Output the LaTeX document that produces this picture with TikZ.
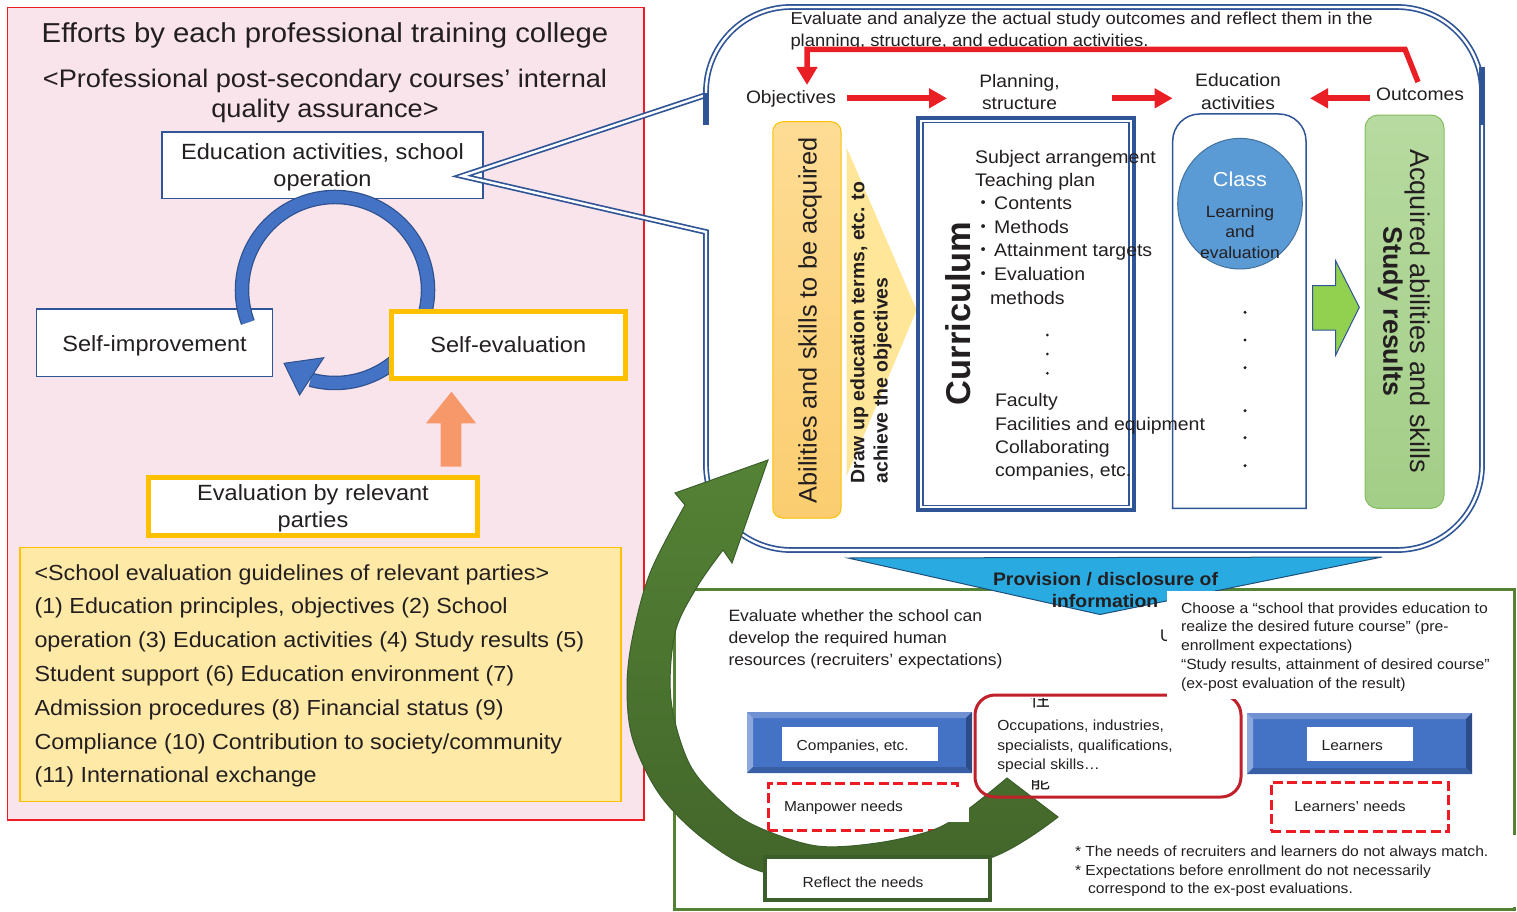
\documentclass[tikz,border=0pt]{standalone}
\usepackage{fontspec}
\setmainfont{Liberation Sans}[FakeStretch=1.07]
\newfontfamily\rotsans{Liberation Sans}
\newfontfamily\cjk{Noto Sans CJK JP}
\newfontfamily\calib{Carlito}
\usetikzlibrary{arrows.meta,shapes.geometric}

\definecolor{ink}{RGB}{35,31,32}
\definecolor{panelpink}{RGB}{250,228,236}
\definecolor{panelred}{RGB}{237,28,36}
\definecolor{boxblue}{RGB}{47,85,151}
\definecolor{ringblue}{RGB}{68,114,196}
\definecolor{ringdark}{RGB}{47,82,143}
\definecolor{amber}{RGB}{255,192,0}
\definecolor{salmon}{RGB}{246,152,106}
\definecolor{listyellow}{RGB}{255,233,166}
\definecolor{flowred}{RGB}{234,30,37}
\definecolor{paleyellow}{RGB}{255,230,153}
\definecolor{abiltop}{RGB}{254,220,148}
\definecolor{abilbot}{RGB}{251,205,112}
\definecolor{classblue}{RGB}{91,155,213}
\definecolor{classedge}{RGB}{65,113,156}
\definecolor{leafgreen}{RGB}{146,208,80}
\definecolor{resulttop}{RGB}{183,218,160}
\definecolor{resultbot}{RGB}{163,206,135}
\definecolor{resultedge}{RGB}{130,190,95}
\definecolor{skyblue}{RGB}{41,171,226}
\definecolor{navyedge}{RGB}{31,78,121}
\definecolor{forest}{RGB}{84,130,53}
\definecolor{forestdeep}{RGB}{66,101,42}
\definecolor{forestdark}{RGB}{59,94,43}
\definecolor{needred}{RGB}{237,28,36}
\definecolor{wine}{RGB}{192,32,42}
\definecolor{bevelbase}{RGB}{68,114,196}
\definecolor{bevellight}{RGB}{112,146,211}
\definecolor{bevelleft}{RGB}{140,168,220}
\definecolor{beveldark}{RGB}{44,76,135}
\definecolor{bevelbottom}{RGB}{56,94,166}

\newcommand\fsz[2]{\fontsize{#1}{#2}\selectfont}
% bevelled panel: corners (x1,y1) and (x2,y2)
\newcommand\bevelpanel[4]{%
  \fill[bevelbase] (#1,#2) rectangle (#3,#4);
  \fill[bevellight] (#1,#2) -- (#3,#2) -- ({#3-6},{#2+6}) -- ({#1+6},{#2+6}) -- cycle;
  \fill[bevelleft] (#1,#2) -- ({#1+6},{#2+6}) -- ({#1+6},{#4-6}) -- (#1,#4) -- cycle;
  \fill[beveldark] (#3,#2) -- (#3,#4) -- ({#3-6},{#4-6}) -- ({#3-6},{#2+6}) -- cycle;
  \fill[bevelbottom] (#1,#4) -- (#3,#4) -- ({#3-6},{#4-6}) -- ({#1+6},{#4-6}) -- cycle;
}

\tikzset{
  txt/.style={inner sep=0pt, outer sep=0pt, text=ink},
  lbl/.style={txt, anchor=base west},
  clbl/.style={txt, anchor=base},
  plainbox/.style={draw=boxblue, line width=1.5pt, fill=white, inner sep=0pt},
  amberbox/.style={draw=amber, line width=5pt, fill=white, inner sep=0pt},
  flow/.style={draw=flowred, line width=6pt, -{Triangle[width=19pt,length=18pt]}},
  needbox/.style={draw=needred, line width=3pt, dash pattern=on 10pt off 4.5pt, inner sep=0pt},
  blank/.style={fill=white, inner sep=0pt},
}

\begin{document}
\begin{tikzpicture}[x=1pt,y=-1pt]
\useasboundingbox (0,0) rectangle (1517,912);
\fill[white] (0,0) rectangle (1517,912);

% ---------------- left panel: internal quality assurance ----------------
\node[draw=panelred, line width=1.5pt, fill=panelpink, minimum width=636.5, minimum height=812.5, inner sep=0pt] (leftpanel) at (325.75,413.75) {};
\node[clbl, font=\fsz{27.4}{32}] (title) at (325,43) {Efforts by each professional training college};
\node[clbl, font=\fsz{25.4}{30}] (sub1) at (325,87.3) {<Professional post-secondary courses’ internal};
\node[clbl, font=\fsz{25.4}{30}] (sub2) at (325,117.5) {quality assurance>};

\node[plainbox, minimum width=321, minimum height=66.5] (ea) at (322.5,165.25) {};
\node[clbl, font=\fsz{22}{26}] (ea1) at (322.5,159.3) {Education activities, school};
\node[clbl, font=\fsz{22}{26}] (ea2) at (322.5,186) {operation};

\node[plainbox, minimum width=236.1, minimum height=67.7] (simp) at (154.55,342.85) {};
\node[clbl, font=\fsz{22}{26}] (simptxt) at (154.55,351.7) {Self-improvement};

% improvement cycle
\draw[ringdark, line width=14.5pt] (335,290) ++(159.6:93) arc[start angle=159.6, end angle=465.2, radius=93];
\draw[ringblue, line width=12pt] (335,290) ++(159.6:93) arc[start angle=159.6, end angle=465.2, radius=93];
\filldraw[fill=ringblue, draw=ringdark, line width=1pt] (284,363.3) -- (323.7,357.7) -- (299.6,395) -- cycle;

\node[amberbox, minimum width=234, minimum height=67] (seval) at (508.3,344.7) {};
\node[clbl, font=\fsz{22}{26}] (sevaltxt) at (508.3,352.3) {Self-evaluation};

\node[amberbox, minimum width=329, minimum height=58.3] (erp) at (313,506.65) {};
\node[clbl, font=\fsz{22}{26}] (erp1) at (313,500) {Evaluation by relevant};
\node[clbl, font=\fsz{22}{26}] (erp2) at (313,527.5) {parties};

\fill[salmon] (440.7,466.7) -- (440.7,423.3) -- (426,423.3) -- (451.5,391.7) -- (476,423.3) -- (461.4,423.3) -- (461.4,466.7) -- cycle;

\node[draw=amber, line width=1.2pt, fill=listyellow, minimum width=601, minimum height=254, inner sep=0pt] (guide) at (320.5,674.7) {};
\begin{scope}[every node/.style={lbl, font=\fsz{21.8}{26}}]
\node (g1) at (34.5,580) {<School evaluation guidelines of relevant parties>};
\node (g2) at (34.5,613.5) {(1) Education principles, objectives (2) School};
\node (g3) at (34.5,647.3) {operation (3) Education activities (4) Study results (5)};
\node (g4) at (34.5,681.2) {Student support (6) Education environment (7)};
\node (g5) at (34.5,715) {Admission procedures (8) Financial status (9)};
\node (g6) at (34.5,749) {Compliance (10) Contribution to society/community};
\node (g7) at (34.5,782.8) {(11) International exchange};
\end{scope}

% ---------------- callout frame ----------------
\draw[boxblue, line width=1.7pt, double=white, double distance=2.4pt, line join=miter]
  (706,232) -- (706,465) arc[start angle=180, end angle=90, radius=85]
  -- (1397,550) arc[start angle=90, end angle=0, radius=85]
  -- (1482,92) arc[start angle=0, end angle=-90, radius=85]
  -- (791,7) arc[start angle=-90, end angle=-180, radius=85]
  -- (706,95) -- (462,176) -- cycle;
\fill[boxblue] (703,93) rectangle (709,125);
\fill[boxblue] (1479,67) rectangle (1485,125);

\node[lbl, font=\fsz{17.2}{21}] (fb1) at (790.5,25) {Evaluate and analyze the actual study outcomes and reflect them in the};
\node[lbl, font=\fsz{17.2}{21}] (fb2) at (790.5,46.7) {planning, structure, and education activities.};

\node[lbl, font=\fsz{18}{22}] (obj) at (746,104) {Objectives};
\node[clbl, font=\fsz{18}{22}] (plan1) at (1019.5,88) {Planning,};
\node[clbl, font=\fsz{18}{22}] (plan2) at (1019.5,109.5) {structure};
\node[clbl, font=\fsz{18}{22}] (edu1) at (1238,87) {Education};
\node[clbl, font=\fsz{18}{22}] (edu2) at (1238,109.5) {activities};
\node[clbl, font=\fsz{18}{22}] (outc) at (1420,101) {Outcomes};

\coordinate (fbstart) at (1418,82);
\coordinate (objtop) at (807,85);
\draw[flowred, line width=5.5pt, line join=miter, -{Triangle[width=20pt,length=18pt]}] (fbstart) -- (1405,49.3) -- (807,49.3) -- (objtop);

\coordinate (a1s) at (847,98.3);   \coordinate (a1e) at (947,98.3);
\coordinate (a2s) at (1112,98.3);  \coordinate (a2e) at (1172.6,98.3);
\coordinate (a3s) at (1370,98.3);  \coordinate (a3e) at (1310,98.3);
\draw[flow] (a1s) -- (a1e);
\draw[flow] (a2s) -- (a2e);
\draw[flow] (a3s) -- (a3e);

% abilities column
\node[draw=amber, line width=1pt, rounded corners=10pt, top color=abiltop, bottom color=abilbot, minimum width=68.3, minimum height=396.3, inner sep=0pt] (abil) at (806.9,319.9) {};
\node[clbl, rotate=90, font=\rotsans\fsz{25.3}{30}] (abiltxt) at (816.7,320.5) {Abilities and skills to be acquired};

\fill[paleyellow] (846.7,147.7) -- (916.7,310) -- (846.7,476) -- cycle;
\node[lbl, rotate=90, font=\rotsans\bfseries\fsz{19.4}{24}] (draw1) at (864.3,483.5) {Draw up education terms, etc. to};
\node[lbl, rotate=90, font=\rotsans\bfseries\fsz{19.4}{24}] (draw2) at (887.5,483.5) {achieve the objectives};

% education activities column
\draw[boxblue, line width=1.5pt, fill=white] (1172.7,508.3) -- (1172.7,141) arc[start angle=180, end angle=270, radius=27]
  -- (1279,114) arc[start angle=270, end angle=360, radius=27] -- (1306,508.3) -- cycle;
\node[ellipse, draw=classedge, line width=1pt, fill=classblue, minimum width=124.6, minimum height=130.6, inner sep=0pt] (class) at (1240,203.7) {};
\node[clbl, text=white, font=\fsz{20.2}{24}] (classtxt) at (1240,186) {Class};
\node[clbl, font=\fsz{16.4}{20}] (le1) at (1240,217.3) {Learning};
\node[clbl, font=\fsz{16.4}{20}] (le2) at (1240,237.7) {and};
\node[clbl, font=\fsz{16.4}{20}] (le3) at (1240,258.7) {evaluation};
\foreach \yy in {312.3,340,367.7,410.7,437.7,465.7} \fill[ink] (1245,\yy) circle[radius=1.7];

% curriculum
\node[draw=boxblue, line width=4pt, fill=white, minimum width=215.7, minimum height=391.7, inner sep=0pt] (curr) at (1025.85,313.85) {};
\draw[boxblue, line width=1.6pt] (922.9,122.5) rectangle (1128.8,505.3);
\node[clbl, rotate=90, font=\rotsans\bfseries\fsz{34.4}{40}] (currtitle) at (970.7,313.4) {Curriculum};
\begin{scope}[every node/.style={lbl, font=\fsz{18.2}{22}}]
\node (c1) at (975,163.3) {Subject arrangement};
\node (c2) at (975,186.7) {Teaching plan};
\node (c3) at (974,209.3) {{\cjk ・}\hspace{2pt}Contents};
\node (c4) at (974,233.3) {{\cjk ・}\hspace{2pt}Methods};
\node (c5) at (974,256) {{\cjk ・}\hspace{2pt}Attainment targets};
\node (c6) at (974,280.7) {{\cjk ・}\hspace{2pt}Evaluation};
\node (c7) at (990,304) {methods};
\node (c8) at (995,406.7) {Faculty};
\node (c9) at (995,430) {Facilities and equipment};
\node (c10) at (995,453.3) {Collaborating};
\node (c11) at (995,476) {companies, etc.};
\end{scope}
\foreach \yy in {335,354,373.3} \fill[ink] (1047.3,\yy) circle[radius=1.5];

\filldraw[fill=leafgreen, draw=boxblue, line width=1pt] (1312.7,285.7) -- (1335.7,285.7) -- (1335.7,261) -- (1359.3,307.3)
  -- (1335.7,355) -- (1335.7,330) -- (1312.7,330) -- cycle;

% study results
\node[draw=resultedge, line width=1pt, rounded corners=13pt, top color=resulttop, bottom color=resultbot, minimum width=79, minimum height=393.3, inner sep=0pt] (result) at (1404.5,311.7) {};
\node[clbl, rotate=-90, font=\rotsans\fsz{27.1}{32}] (res1) at (1410,311.2) {Acquired abilities and skills};
\node[clbl, rotate=-90, font=\rotsans\bfseries\fsz{26.8}{32}] (res2) at (1383.3,311.7) {Study results};

% ---------------- lower panel: needs ----------------
\node[draw=forest, line width=3pt, minimum width=840, minimum height=320, inner sep=0pt] (lowpanel) at (1094.5,749.5) {};

\filldraw[fill=skyblue, draw=navyedge, line width=1pt] (848,558) -- (1382,557) -- (1100,614.5) -- cycle;
\node[clbl, font=\bfseries\fsz{18.1}{22}] (prov1) at (1105.5,585) {Provision / disclosure of};
\node[clbl, font=\bfseries\fsz{18.1}{22}] (prov2) at (1105,607) {information};

\node[lbl, font=\fsz{16.4}{20}] (ev1) at (728.5,621.7) {Evaluate whether the school can};
\node[lbl, font=\fsz{16.4}{20}] (ev2) at (728.5,643.3) {develop the required human};
\node[lbl, font=\fsz{16.4}{20}] (ev3) at (728.5,665) {resources (recruiters’ expectations)};

\bevelpanel{747}{712}{972}{773}
\node[blank, minimum width=156, minimum height=34] (compbox) at (860,744) {};
\node[lbl, font=\fsz{14.5}{18}] (comptxt) at (796.7,750) {Companies, etc.};

\bevelpanel{1247}{713}{1472}{774}
\node[blank, minimum width=106, minimum height=34] (learnbox) at (1360,744) {};
\node[lbl, font=\fsz{14.5}{18}] (learntxt) at (1321.7,750) {Learners};

\node[needbox, minimum width=189, minimum height=47] (manpower) at (862.5,806.5) {};
\node[needbox, minimum width=177, minimum height=49] (lneeds) at (1359.5,806.5) {};
\node[lbl, font=\fsz{14.5}{18}] (lneedstxt) at (1294.3,811) {Learners’ needs};

\node[lbl, font=\calib\fsz{18}{20}] (fragU) at (1160,641.5) {U};

% feedback of needs
\path[draw=forestdark, line width=1pt, top color=forest, bottom color=forestdeep]
  plot[smooth, tension=0.55] coordinates {(685,505) (650,573) (632,640) (627,690) (633,740) (660,795) (705,840) (763,872) (870,889) (993,857) (1058,817)}
  -- plot[smooth, tension=0.55] coordinates {(1007,778) (967,810) (933,830) (877,843) (817,846) (760,828) (727,807) (690,765) (671,700) (675,633) (697,587) (723,550)}
  -- (732,563) -- (768,460) -- (675,493) -- cycle;

\node[draw=wine, line width=3pt, rounded corners=20pt, minimum width=266, minimum height=102, inner sep=0pt] (occ) at (1108,746) {};
\node[lbl, font=\fsz{14.6}{18}] (occ1) at (997.3,730.7) {Occupations, industries,};
\node[lbl, font=\fsz{14.6}{18}] (occ2) at (997.3,750.7) {specialists, qualifications,};
\node[lbl, font=\fsz{14.6}{18}] (occ3) at (997.3,769.3) {special skills…};
\begin{scope}
\clip (1025,698.5) rectangle (1060,712);
\node[clbl, font=\cjk\fsz{20}{20}] (fragA) at (1040,706.6) {性};
\end{scope}
\begin{scope}
\clip (1025,780) rectangle (1060,794);
\node[clbl, font=\cjk\fsz{20}{20}] (fragB) at (1040,788.6) {能};
\end{scope}

\node[blank, minimum width=193, minimum height=34] (manlabel) at (872.5,805) {};
\node[lbl, font=\fsz{14.5}{18}] (mantxt) at (784,811.7) {Manpower needs};

\node[draw=forestdark, line width=4pt, fill=white, minimum width=225, minimum height=43, inner sep=0pt] (reflect) at (877.5,878.5) {};
\node[lbl, font=\fsz{14.5}{18}] (reflecttxt) at (802.7,887.3) {Reflect the needs};

\node[blank, minimum width=343.3, minimum height=108] (choosebox) at (1338.3,645) {};
\begin{scope}[every node/.style={lbl, font=\fsz{14.7}{18}}]
\node (ch1) at (1181,613.3) {Choose a “school that provides education to};
\node (ch2) at (1181,631.7) {realize the desired future course” (pre-};
\node (ch3) at (1181,650.7) {enrollment expectations)};
\node (ch4) at (1181,669.3) {“Study results, attainment of desired course”};
\node (ch5) at (1181,688.3) {(ex-post evaluation of the result)};
\end{scope}

\node[blank, minimum width=449, minimum height=72] (notebox) at (1292.5,871) {};
\begin{scope}[every node/.style={lbl, font=\fsz{14.6}{18}}]
\node (n1) at (1075,856.7) {* The needs of recruiters and learners do not always match.};
\node (n2) at (1075,875) {* Expectations before enrollment do not necessarily};
\node (n3) at (1088,893.3) {correspond to the ex-post evaluations.};
\end{scope}
\end{tikzpicture}
\end{document}
